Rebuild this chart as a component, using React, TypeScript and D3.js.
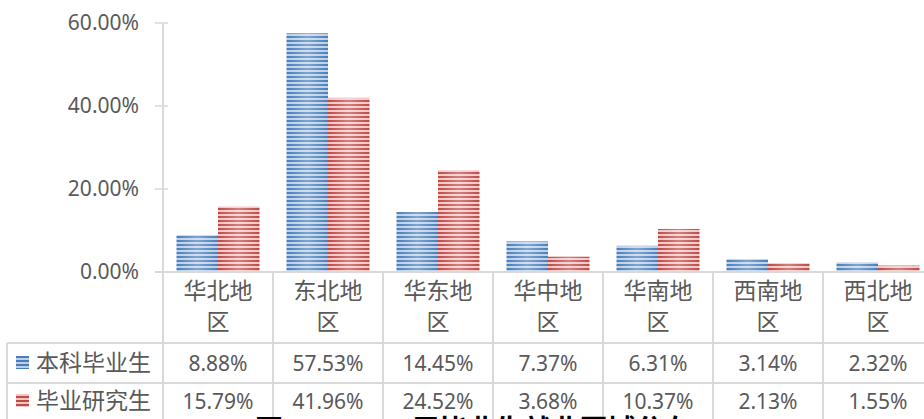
import React from "react";
import * as d3 from "d3";

const regions = ["华北地区", "东北地区", "华东地区", "华中地区", "华南地区", "西南地区", "西北地区"];
const seriesNames = ["本科毕业生", "毕业研究生"];
const undergrad = [8.88, 57.53, 14.45, 7.37, 6.31, 3.14, 2.32];
const postgrad = [15.79, 41.96, 24.52, 3.68, 10.37, 2.13, 1.55];
const yTicks = [0, 20, 40, 60];
const caption = "图 3-1  2020 届毕业生就业区域分布";

const WIDTH = 924;
const HEIGHT = 419;
const LEFT = 163;
const TOP = 23;
const AXIS_Y = 272;
const ROW1 = 343;
const ROW2 = 383;
const ROW3 = 423;
const TABLE_LEFT = 7;
const GRID = "#d9d9d9";
const TEXT = "#595959";
const NUM_FONT = "'Noto Sans', sans-serif";
const CJK_FONT = "'Noto Sans CJK SC', sans-serif";

const palette = [
  { id: "blue", dark: "#4a7ebb", light: "#bdd0e8" },
  { id: "red", dark: "#be4b48", light: "#f2c6c5" },
];

export default function App() {
  const series = [undergrad, postgrad];

  const x = d3.scaleBand<string>().domain(regions).range([LEFT, LEFT + 110 * regions.length]).padding(0);
  const inner = d3
    .scaleBand<number>()
    .domain([0, 1])
    .range([13.5, x.bandwidth() - 13.5])
    .padding(0);
  const y = d3.scaleLinear().domain([0, 60]).range([AXIS_Y, TOP]);
  const fmt = (v: number) => v.toFixed(2) + "%";

  return (
    <svg
      width={WIDTH}
      height={HEIGHT}
      style={{ position: "absolute", left: 0, top: 0, background: "#fff" }}
    >
      <defs>
        {palette.map((p) => (
          <pattern key={p.id} id={"stripe-" + p.id} patternUnits="userSpaceOnUse" width={4} height={4}>
            <rect width={4} height={4} fill={p.light} />
            <rect width={4} height={2} fill={p.dark} />
          </pattern>
        ))}
        <linearGradient id="sheen" x1="0" x2="1" y1="0" y2="0">
          <stop offset="0" stopColor="#fff" stopOpacity={0} />
          <stop offset="0.5" stopColor="#fff" stopOpacity={0.3} />
          <stop offset="1" stopColor="#fff" stopOpacity={0} />
        </linearGradient>
      </defs>

      {/* y axis ticks and labels */}
      {yTicks.map((t) => (
        <g key={t}>
          <line x1={155} x2={168} y1={y(t)} y2={y(t)} stroke={GRID} strokeWidth={1.5} />
          <text
            x={139}
            y={y(t)}
            dy="0.35em"
            textAnchor="end"
            fontFamily={NUM_FONT}
            fontSize={21}
            fill={TEXT}
          >
            {t.toFixed(2) + "%"}
          </text>
        </g>
      ))}

      {/* bars */}
      {regions.map((r, i) => (
        <g key={r} transform={`translate(${x(r)},0)`}>
          {series.map((s, k) => {
            const bx = inner(k) as number;
            const bw = inner.bandwidth();
            const by = y(s[i]);
            const bh = AXIS_Y - by;
            return (
              <g key={k}>
                <rect x={bx} y={by} width={bw} height={bh} fill={`url(#stripe-${palette[k].id})`} />
                <rect x={bx} y={by} width={bw} height={bh} fill="url(#sheen)" />
              </g>
            );
          })}
        </g>
      ))}

      {/* axis line + table grid */}
      <line x1={LEFT} x2={LEFT} y1={TOP} y2={HEIGHT} stroke={GRID} strokeWidth={2} />
      <line x1={155} x2={WIDTH} y1={AXIS_Y} y2={AXIS_Y} stroke={GRID} strokeWidth={2} />
      <line x1={TABLE_LEFT} x2={WIDTH} y1={ROW1} y2={ROW1} stroke={GRID} strokeWidth={2} />
      <line x1={TABLE_LEFT} x2={WIDTH} y1={ROW2} y2={ROW2} stroke={GRID} strokeWidth={2} />
      <line x1={TABLE_LEFT} x2={WIDTH} y1={ROW3} y2={ROW3} stroke={GRID} strokeWidth={2} />
      <line x1={TABLE_LEFT} x2={TABLE_LEFT} y1={ROW1} y2={HEIGHT} stroke={GRID} strokeWidth={2} />
      {regions.map((r) => (
        <line
          key={r}
          x1={(x(r) as number) + x.bandwidth()}
          x2={(x(r) as number) + x.bandwidth()}
          y1={AXIS_Y}
          y2={HEIGHT}
          stroke={GRID}
          strokeWidth={2}
        />
      ))}

      {/* category labels (wrapped) */}
      {regions.map((r) => {
        const cx = (x(r) as number) + x.bandwidth() / 2;
        return (
          <text key={r} textAnchor="middle" fontFamily={CJK_FONT} fontSize={23} fill={TEXT}>
            <tspan x={cx} y={299}>{r.slice(0, 3)}</tspan>
            <tspan x={cx} y={330}>{r.slice(3)}</tspan>
          </text>
        );
      })}

      {/* legend column + values */}
      {series.map((s, k) => {
        const rowMid = k === 0 ? (ROW1 + ROW2) / 2 : (ROW2 + ROW3) / 2 - 2;
        return (
          <g key={k}>
            <rect x={16} y={rowMid - 7} width={13} height={13} fill={`url(#stripe-${palette[k].id})`} />
            <text
              x={36}
              y={rowMid}
              dy="0.36em"
              fontFamily={CJK_FONT}
              fontSize={23}
              fill={TEXT}
            >
              {seriesNames[k]}
            </text>
            {regions.map((r, i) => (
              <text
                key={r}
                x={(x(r) as number) + x.bandwidth() / 2}
                y={rowMid}
                dy="0.36em"
                textAnchor="middle"
                fontFamily={NUM_FONT}
                fontSize={21}
                fill={TEXT}
              >
                {fmt(s[i])}
              </text>
            ))}
          </g>
        );
      })}

      {/* figure caption, mostly cut off at the bottom */}
      <text x={255} y={440} fontFamily={CJK_FONT} fontWeight={700} fontSize={28} fill="#000">
        {caption}
      </text>
    </svg>
  );
}
